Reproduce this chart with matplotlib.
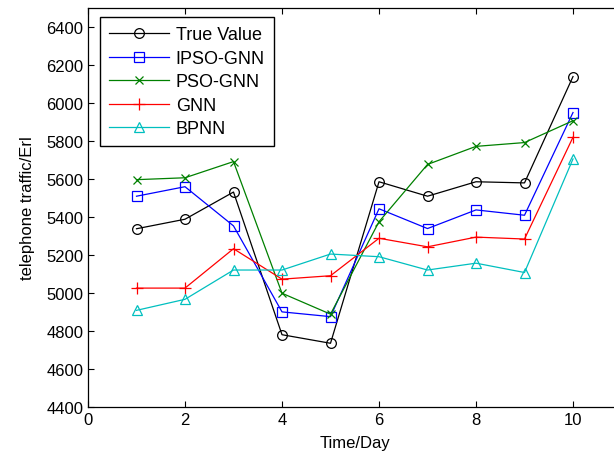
import matplotlib
matplotlib.use("Agg")
import matplotlib.pyplot as plt

plt.rcParams['font.family'] = ['Liberation Sans', 'DejaVu Sans']

days = [1, 2, 3, 4, 5, 6, 7, 8, 9, 10]
true_value = [5337, 5387, 5530, 4780, 4735, 5584, 5508, 5584, 5578, 6137]
ipso_gnn = [5508, 5558, 5352, 4900, 4875, 5442, 5338, 5436, 5408, 5948]
pso_gnn = [5595, 5605, 5690, 4998, 4888, 5374, 5675, 5770, 5790, 5905]
gnn = [5025, 5025, 5232, 5072, 5090, 5287, 5242, 5293, 5283, 5818]
bpnn = [4908, 4966, 5120, 5120, 5204, 5190, 5120, 5156, 5107, 5704]

xticks = [0, 2, 4, 6, 8, 10]
yticks = list(range(4400, 6401, 200))

W, H = 614, 456
fig = plt.figure(figsize=(W/100, H/100), dpi=100)
ax_l, ax_b, ax_w, ax_h = 88, 48, 533.5, 399.5
ax = fig.add_axes([ax_l/W, ax_b/H, ax_w/W, ax_h/H])

lw = 0.9
ax.plot(days, true_value, color='black', marker='o', mfc='none', ms=7, lw=lw, mew=0.9, label='True Value')
ax.plot(days, ipso_gnn, color='blue', marker='s', mfc='none', ms=7, lw=lw, mew=0.9, label='IPSO-GNN')
ax.plot(days, pso_gnn, color='green', marker='x', ms=5.5, lw=lw, mew=0.9, label='PSO-GNN')
ax.plot(days, gnn, color='red', marker='+', ms=8, lw=lw, mew=0.9, label='GNN')
ax.plot(days, bpnn, color='#00BFBF', marker='^', mfc='none', ms=7, lw=lw, mew=0.9, label='BPNN')

ax.set_xlim(0, 11)
ax.set_ylim(4400, 6500)
ax.set_xticks(xticks)
ax.set_yticks(yticks)
ax.tick_params(direction='in', top=True, right=True, labelsize=12, length=4, width=0.8)
for s in ax.spines.values():
    s.set_linewidth(0.9)

ax.set_xlabel('Time/Day', fontsize=12, labelpad=6)
ax.set_ylabel('telephone traffic/Erl', fontsize=12, labelpad=8)

leg = ax.legend(loc='upper left', bbox_to_anchor=(12/ax_w, 1 - 9.8/ax_h),
                borderaxespad=0, fontsize=13, frameon=True, fancybox=False,
                edgecolor='black', framealpha=1,
                handlelength=3.3, handletextpad=0.4, labelspacing=0.36, borderpad=0.5)
leg.get_frame().set_linewidth(1.0)

fig.savefig('out.png', dpi=100)
